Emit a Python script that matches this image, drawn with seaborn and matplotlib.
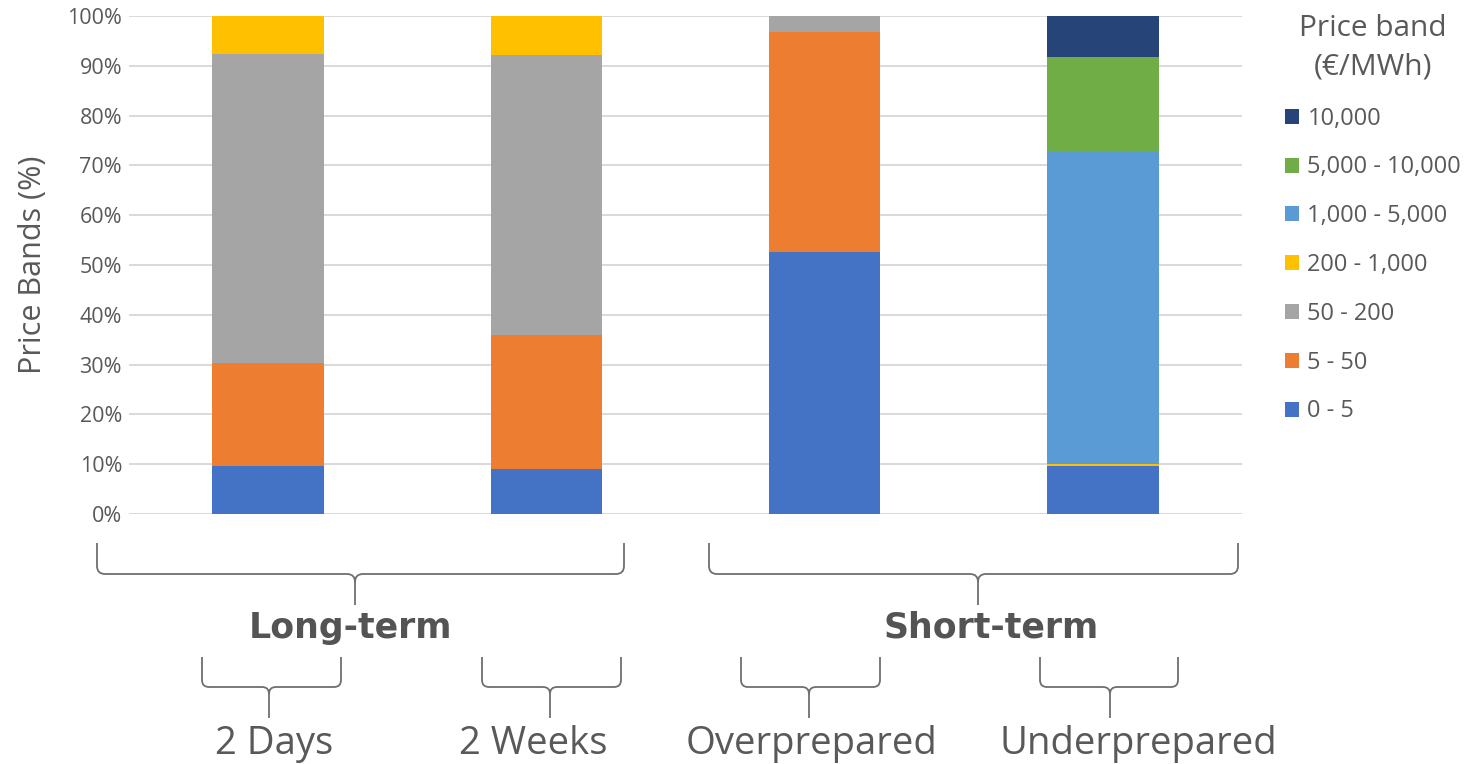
import matplotlib
matplotlib.use("Agg")
import matplotlib.pyplot as plt
import seaborn as sns
import numpy as np
from matplotlib.patches import Patch, PathPatch
from matplotlib.path import Path
from matplotlib.ticker import FuncFormatter

# ---- data -----------------------------------------------------------------
scenarios = ["2 Days", "2 Weeks", "Overprepared", "Underprepared"]
groups = ["Long-term", "Short-term"]
bands = ["0 - 5", "5 - 50", "50 - 200", "200 - 1,000",
         "1,000 - 5,000", "5,000 - 10,000", "10,000"]
band_colors = ["#4472C4", "#ED7D31", "#A5A5A5", "#FFC000",
               "#5B9BD5", "#70AD47", "#264478"]

share_0_5 = [9.7, 9.1, 52.7, 9.6]
share_5_50 = [20.6, 26.8, 44.0, 0.0]
share_50_200 = [62.0, 56.2, 3.3, 0.0]
share_200_1000 = [7.7, 7.9, 0.0, 0.4]
share_1000_5000 = [0.0, 0.0, 0.0, 62.8]
share_5000_10000 = [0.0, 0.0, 0.0, 18.9]
share_10000 = [0.0, 0.0, 0.0, 8.3]

band_shares = [share_0_5, share_5_50, share_50_200, share_200_1000,
               share_1000_5000, share_5000_10000, share_10000]

y_ticks = [0, 10, 20, 30, 40, 50, 60, 70, 80, 90, 100]

# ---- figure ---------------------------------------------------------------
W, H = 1472, 764
sns.set_theme(style="white")
plt.rcParams["font.family"] = ["Open Sans", "DejaVu Sans"]
TXT = "#595959"

fig = plt.figure(figsize=(W / 100, H / 100), dpi=100)
ax = fig.add_axes([129 / W, 1 - 514 / H, (1242 - 129) / W, (514 - 16) / H])

bottom = np.zeros(len(scenarios))
for name, vals, col in zip(bands, band_shares, band_colors):
    sns.barplot(x=scenarios, y=vals, order=scenarios, bottom=bottom,
                color=col, saturation=1, width=0.4, errorbar=None,
                linewidth=0, ax=ax)
    bottom = bottom + np.asarray(vals)

ax.set_ylim(0, 100)
ax.set_xlim(-0.5, len(scenarios) - 0.5)
ax.set_yticks(y_ticks)
ax.yaxis.set_major_formatter(FuncFormatter(lambda v, _: f"{v:.0f}%"))
ax.tick_params(axis="y", labelsize=15.5, colors=TXT, length=0, pad=5)
ax.set_xticks([])
ax.set_xlabel("")
ax.set_ylabel("Price Bands (%)", fontsize=22, color=TXT, labelpad=14)
ax.yaxis.grid(True, color="#d9d9d9", linewidth=1.4)
ax.set_axisbelow(True)
for s in ax.spines.values():
    s.set_visible(False)

# ---- legend (top band first) ----------------------------------------------
handles = [Patch(facecolor=c, edgecolor="none", label=b)
           for b, c in zip(bands[::-1], band_colors[::-1])]
leg = fig.legend(handles=handles, loc="upper left",
                 bbox_to_anchor=(1266 / W, 1 + 5 / H),
                 frameon=False, fontsize=17, title="Price band\n(€/MWh)",
                 title_fontsize=21.5, handlelength=0.6, handleheight=0.6,
                 handletextpad=0.35, labelspacing=1.05, borderpad=0.3)
for t in leg.get_texts():
    t.set_color(TXT)
leg.get_title().set_color(TXT)
leg.get_title().set_multialignment("center")
leg.get_title().set_linespacing(1.45)


# ---- curly braces below the bars ------------------------------------------
def px(x, y):
    return (x / W, 1 - y / H)


def brace(x0, x1, xt, ytop, yh, ytip, r=8):
    pts = [
        (x0, ytop), (x0, yh - r), (x0, yh), (x0 + r, yh),
        (xt - r, yh), (xt, yh), (xt, yh + r), (xt, ytip),
        (xt, yh + r), (xt, yh), (xt + r, yh),
        (x1 - r, yh), (x1, yh), (x1, yh - r), (x1, ytop),
    ]
    codes = [Path.MOVETO, Path.LINETO, Path.CURVE3, Path.CURVE3,
             Path.LINETO, Path.CURVE3, Path.CURVE3, Path.LINETO,
             Path.MOVETO, Path.CURVE3, Path.CURVE3,
             Path.LINETO, Path.CURVE3, Path.CURVE3, Path.LINETO]
    path = Path([px(*p) for p in pts], codes)
    fig.add_artist(PathPatch(path, transform=fig.transFigure,
                             facecolor="none", edgecolor="#6f6f6f",
                             linewidth=1.3))


# group braces and labels
brace(97, 624, 355, 543, 574, 605)
brace(709, 1238, 978, 543, 574, 605)
for label, cx in zip(groups, [351, 991]):
    fig.text(*px(cx, 628), label, ha="center", va="center",
             fontsize=25, fontweight="bold", color="#545454",
             family="DejaVu Sans")

# scenario braces and labels
small = [(202, 341, 269), (482, 621, 550), (741, 880, 809), (1040, 1178, 1110)]
label_x = [274, 533, 811, 1138]
for (a, b, t), name, lx in zip(small, scenarios, label_x):
    brace(a, b, t, 657, 687, 718, r=7)
    fig.text(*px(lx, 744), name, ha="center", va="center",
             fontsize=27.5, color=TXT)

fig.savefig("out.png", dpi=100)
